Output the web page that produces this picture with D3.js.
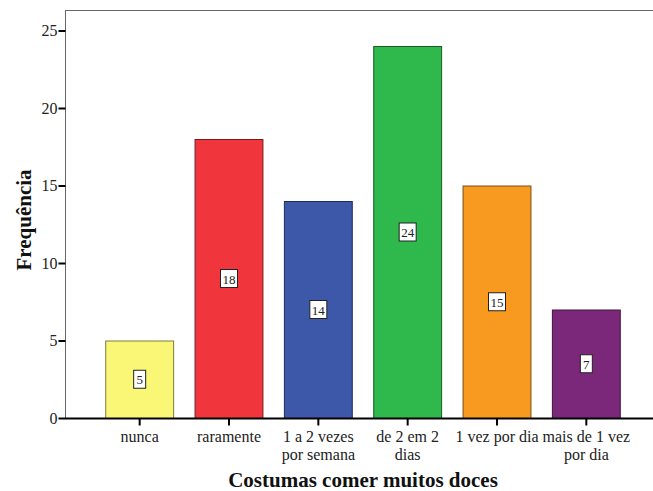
<!DOCTYPE html>
<html><head><meta charset="utf-8">
<script src="https://cdn.jsdelivr.net/npm/d3@7"></script>
<style>body{margin:0;background:#fff}svg{display:block}text{font-family:"Liberation Serif","Times New Roman",serif}</style>
</head><body>
<script>
const categories = [["nunca"],["raramente"],["1 a 2 vezes","por semana"],["de 2 em 2","dias"],["1 vez por dia"],["mais de 1 vez","por dia"]];
const values = [5, 18, 14, 24, 15, 7];
const colors = ["#FAF776","#F0353D","#3D58A9","#2FB84B","#F89A1F","#7B287B"];
const strokes = ["#807c3b","#7a1b1f","#1f2c55","#185c26","#7c4d10","#3e143e"];
const yTicks = [0,5,10,15,20,25];

const W=653,H=491;
const FF='"Liberation Serif","Times New Roman",serif';
const svg=d3.select("body").append("svg").attr("width",W).attr("height",H);
const x=d3.scaleBand().domain(d3.range(values.length)).range([94.5,630.5]).paddingInner(0.24).paddingOuter(0.12);
const y=d3.scaleLinear().domain([0,25]).range([418,30.5]);

// frame
svg.append("rect").attr("x",65.5).attr("y",10.5).attr("width",W).attr("height",408).attr("fill","none").attr("stroke","#666").attr("stroke-width",1);

// bars
svg.selectAll("rect.bar").data(values).enter().append("rect")
  .attr("x",(d,i)=>x(i)+0.5).attr("y",d=>y(d)+0.5).attr("width",x.bandwidth()).attr("height",d=>y(0)-y(d))
  .attr("fill",(d,i)=>colors[i]).attr("stroke",(d,i)=>strokes[i]).attr("stroke-width",1);

// value labels
const lab=svg.selectAll("g.lab").data(values).enter().append("g")
  .attr("transform",(d,i)=>`translate(${x(i)+x.bandwidth()/2+0.5},${y(d/2)})`);
lab.append("rect").attr("x",d=>String(d).length>1?-8.5:-6).attr("y",-9).attr("width",d=>String(d).length>1?17:12).attr("height",18)
  .attr("fill","#fff").attr("stroke","#222").attr("stroke-width",1);
lab.append("text").attr("text-anchor","middle").attr("dy","0.35em").attr("y",0.5)
  .style("font-family",FF).style("font-size","13px").attr("fill","#222").text(d=>d);

// y axis
const ya=svg.append("g").attr("transform","translate(65.5,0)")
  .call(d3.axisLeft(y).tickValues(yTicks).tickSize(7).tickPadding(1));
ya.attr("font-family",null).attr("font-size",null);
ya.select(".domain").remove();
ya.selectAll("line").attr("stroke","#000").attr("stroke-width",2);
ya.selectAll("text").style("font-family",FF).style("font-size","16px").attr("fill","#222");

// x axis
const xa=svg.append("g").attr("transform","translate(0,418.5)");
xa.append("line").attr("x1",65).attr("x2",W).attr("stroke","#000").attr("stroke-width",2);
const xt=xa.selectAll("g.t").data(categories).enter().append("g")
  .attr("transform",(d,i)=>`translate(${x(i)+x.bandwidth()/2+0.5},0)`);
xt.append("line").attr("y2",7).attr("stroke","#000").attr("stroke-width",2);
xt.append("text").attr("text-anchor","middle").style("font-family",FF).style("font-size","16px").attr("fill","#222")
  .selectAll("tspan").data(d=>d).enter().append("tspan").attr("x",0).attr("y",(d,j)=>23+j*18).text(d=>d);

// titles
svg.append("text").attr("x",363).attr("y",487).attr("text-anchor","middle")
  .style("font-family",FF).attr("font-weight","bold").style("font-size","21px").attr("fill","#111").text("Costumas comer muitos doces");
svg.append("text").attr("transform","translate(31,220) rotate(-90)").attr("text-anchor","middle")
  .style("font-family",FF).attr("font-weight","bold").style("font-size","21px").attr("fill","#111").text("Frequência");
</script>
</body></html>
